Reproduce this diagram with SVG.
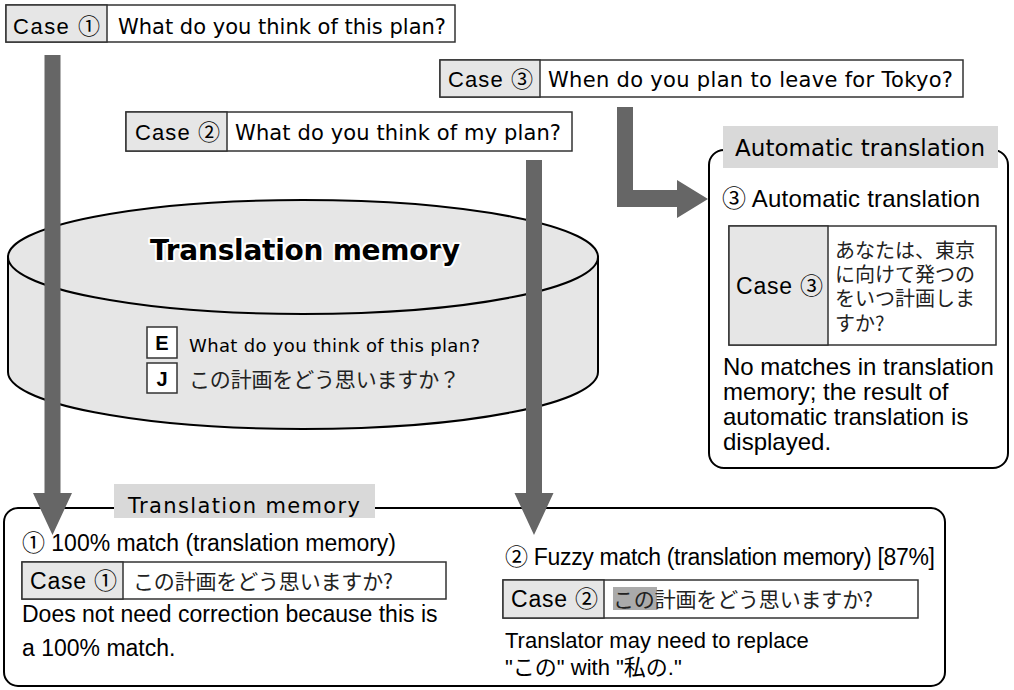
<svg xmlns="http://www.w3.org/2000/svg" width="1014" height="690" viewBox="0 0 1014 690">
<defs>
<style>
.box{fill:#fff;stroke:#333;stroke-width:1.5}
.cell{fill:#e6e6e6;stroke:#333;stroke-width:1.5}
.frame{fill:none;stroke:#000;stroke-width:2}
.label{fill:#d9d9d9}
.arial{font-family:"Liberation Sans","Noto Sans CJK JP",sans-serif;fill:#000}
.mei{font-family:"DejaVu Sans","Noto Sans CJK JP",sans-serif;fill:#000}
.jp{font-family:"Noto Sans CJK JP",sans-serif;fill:#222}
.arrow{fill:#666}
</style>
</defs>
<rect width="1014" height="690" fill="#fff"/>

<g id="case1">
<rect x="6" y="5" width="449" height="37" class="box"/>
<rect x="6" y="5" width="101" height="37" class="cell"/>
<text x="13" y="34" class="arial" font-size="22" textLength="87">Case ①</text>
<text x="118" y="34" class="mei" font-size="21" textLength="328">What do you think of this plan?</text>
</g>

<g id="case3">
<rect x="440" y="60" width="523" height="37" class="box"/>
<rect x="440" y="60" width="100" height="37" class="cell"/>
<text x="448" y="87" class="arial" font-size="22" textLength="85">Case ③</text>
<text x="548" y="87" class="mei" font-size="21" textLength="405">When do you plan to leave for Tokyo?</text>
</g>

<g id="case2">
<rect x="126" y="112" width="446" height="39" class="box"/>
<rect x="126" y="112" width="101" height="39" class="cell"/>
<text x="135" y="140" class="arial" font-size="22" textLength="85">Case ②</text>
<text x="235" y="140" class="mei" font-size="21" textLength="326">What do you think of my plan?</text>
</g>

<g id="tm-db">
<path d="M8,257 V372 A295,57 0 0 0 598,372 V257 Z" fill="#e6e6e6" stroke="#000" stroke-width="2"/>
<ellipse cx="303" cy="257" rx="295" ry="57" fill="#e6e6e6" stroke="#000" stroke-width="2"/>
<text x="305" y="260" text-anchor="middle" font-family="DejaVu Sans, sans-serif" font-weight="bold" font-size="28" textLength="310" fill="#000" stroke="#fff" stroke-width="4" paint-order="stroke" stroke-linejoin="round">Translation memory</text>
<rect x="147" y="327" width="30" height="31" fill="#fff" stroke="#333" stroke-width="1.5"/>
<text x="162" y="350" text-anchor="middle" class="arial" font-weight="bold" font-size="20">E</text>
<rect x="147" y="363" width="30" height="30" fill="#fff" stroke="#333" stroke-width="1.5"/>
<text x="162" y="386" text-anchor="middle" class="arial" font-weight="bold" font-size="20">J</text>
<text x="189" y="352" class="mei" font-size="18" textLength="291">What do you think of this plan?</text>
<text x="189" y="387" class="jp" font-size="21" textLength="271">この計画をどう思いますか？</text>
</g>

<g id="auto">
<rect x="709" y="150" width="299" height="318" rx="15" class="frame"/>
<rect x="723" y="126" width="275" height="42" class="label"/>
<text x="735" y="156" class="mei" font-size="23" textLength="250">Automatic translation</text>
<text x="722" y="207" class="arial" font-size="24" textLength="258">③ Automatic translation</text>
<rect x="729" y="226" width="267" height="119" class="box"/>
<rect x="729" y="226" width="99" height="119" class="cell"/>
<text x="736" y="294" class="arial" font-size="23" textLength="87">Case ③</text>
<text class="jp" font-size="20" fill="#222">
<tspan x="835" y="258">あなたは、東京</tspan>
<tspan x="835" y="282">に向けて発つの</tspan>
<tspan x="835" y="306">をいつ計画しま</tspan>
<tspan x="835" y="331">すか?</tspan>
</text>
<text class="arial" font-size="24">
<tspan x="723" y="375">No matches in translation</tspan>
<tspan x="723" y="400">memory; the result of</tspan>
<tspan x="723" y="425">automatic translation is</tspan>
<tspan x="723" y="450">displayed.</tspan>
</text>
</g>

<g id="tm-result">
<rect x="4" y="508" width="941" height="178" rx="14" class="frame"/>
<rect x="114" y="484" width="261" height="34" class="label"/>
<text x="128" y="513" class="mei" font-size="21" textLength="232">Translation memory</text>
<text x="22" y="551" class="arial" font-size="23" textLength="374">① 100% match (translation memory)</text>
<rect x="22" y="562" width="424" height="37" class="box"/>
<rect x="22" y="562" width="101" height="37" class="cell"/>
<text x="30" y="589" class="arial" font-size="23" textLength="87">Case ①</text>
<text x="133" y="589" class="jp" font-size="21" textLength="260">この計画をどう思いますか?</text>
<text class="arial" font-size="23">
<tspan x="22" y="622">Does not need correction because this is</tspan>
<tspan x="22" y="656">a 100% match.</tspan>
</text>
<text x="505" y="565" class="arial" font-size="23" textLength="430">② Fuzzy match (translation memory) [87%]</text>
<rect x="503" y="580" width="415" height="38" class="box"/>
<rect x="503" y="580" width="101" height="38" class="cell"/>
<rect x="613" y="587" width="44" height="23" fill="#aaa"/>
<text x="511" y="607" class="arial" font-size="23" textLength="87">Case ②</text>
<text x="613" y="607" class="jp" font-size="21" textLength="260">この計画をどう思いますか?</text>
<text class="arial" font-size="22">
<tspan x="505" y="648">Translator may need to replace</tspan>
<tspan x="505" y="675">"<tspan font-family="Noto Sans CJK JP, sans-serif">この</tspan>" with "<tspan font-family="Noto Sans CJK JP, sans-serif">私の</tspan>."</tspan>
</text>
</g>

<g id="connectors">
<path class="arrow" d="M44.5,55 H60.5 V493 H72 L52.5,535 L33,493 H44.5 Z"/>
<path class="arrow" d="M526,160 H542 V493 H553.5 L534,535 L514.5,493 H526 Z"/>
<path class="arrow" d="M617,107 H633 V190 H677 V180 L708,199 L677,218 V207 H617 Z"/>
</g>
</svg>
